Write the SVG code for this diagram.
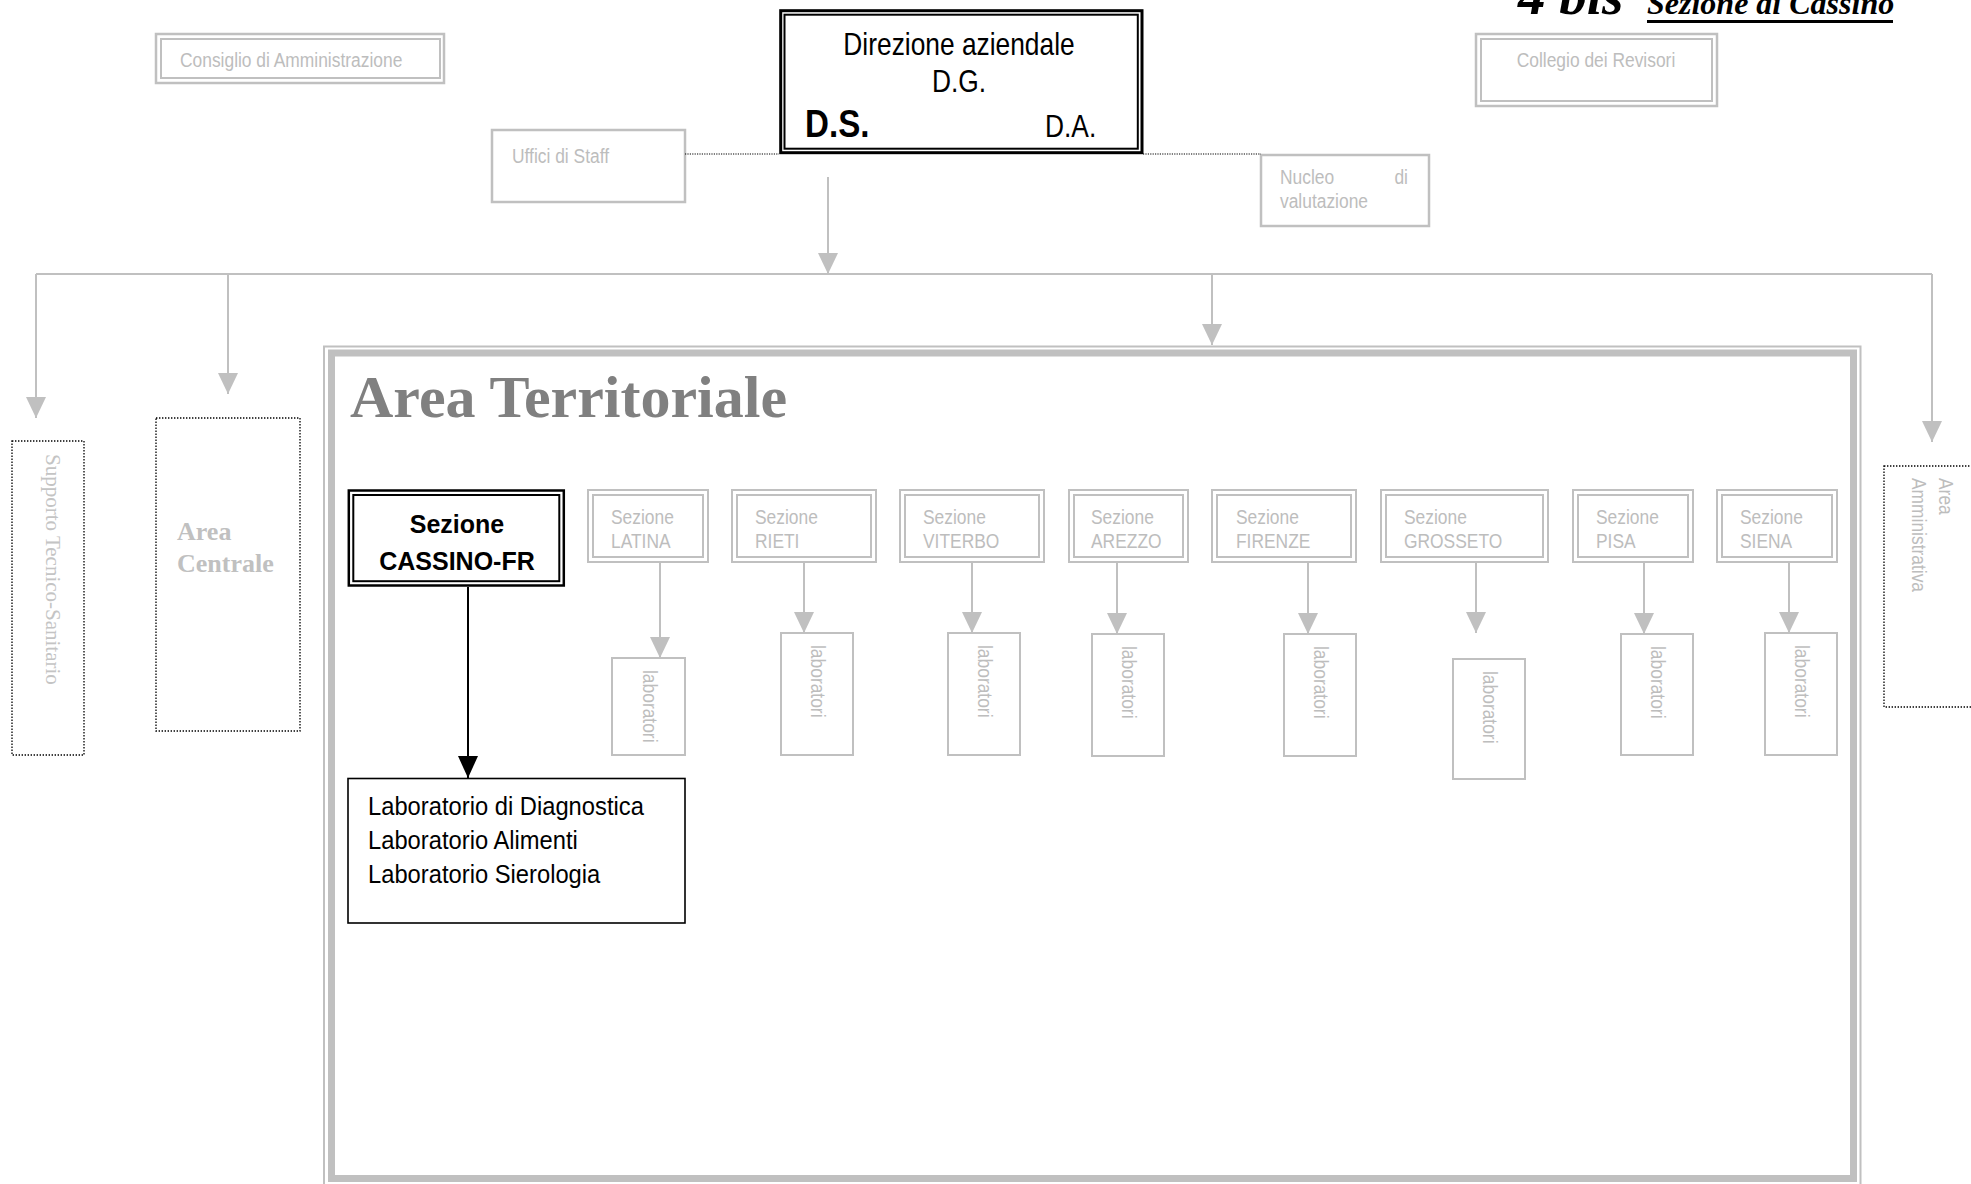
<svg xmlns="http://www.w3.org/2000/svg" width="1971" height="1184" viewBox="0 0 1971 1184">
<style>
.g2{fill:none;stroke:#c0c0c0;stroke-width:2}
.g3{fill:none;stroke:#c0c0c0;stroke-width:2.5}
.dot{fill:none;stroke:#000;stroke-width:1.3;stroke-dasharray:1.4 1.6}
.k{fill:none;stroke:#000}
.gl{fill:none;stroke:#c0c0c0;stroke-width:2}
.gt{font-family:"Liberation Sans",Arial,sans-serif;font-size:20px;fill:#bdbdbd}
.bt{font-family:"Liberation Sans",Arial,sans-serif;fill:#000}
.st{font-family:"Liberation Serif","Times New Roman",serif}
</style>
<defs>
<marker id="ga" viewBox="0 0 21 20" refX="21" refY="10" markerWidth="21" markerHeight="20" markerUnits="userSpaceOnUse" orient="auto"><path d="M0,0 L21,10 L0,20 z" fill="#c0c0c0"/></marker>
<marker id="ka" viewBox="0 0 22 20" refX="22" refY="10" markerWidth="22" markerHeight="20" markerUnits="userSpaceOnUse" orient="auto"><path d="M0,0 L22,10 L0,20 z" fill="#000"/></marker>
</defs>
<rect width="1971" height="1184" fill="#fff"/>

<g id="titolo">
<text class="st" x="1518" y="14" font-size="55" font-weight="bold" font-style="italic" fill="#000">4 bis</text>
<text class="st" x="1647" y="14" font-size="32" font-weight="bold" font-style="italic" fill="#000">Sezione di Cassino</text>
<line x1="1647" y1="21.5" x2="1893" y2="21.5" stroke="#000" stroke-width="3"/>
</g>

<g id="consiglio">
<rect class="g3" x="156" y="34" width="288" height="49"/>
<rect class="g2" x="161" y="39" width="279" height="39"/>
<text class="gt" transform="translate(180,67) scale(.87,1)">Consiglio di Amministrazione</text>
</g>

<g id="direzione">
<rect class="k" x="780.7" y="10.7" width="361.3" height="142" stroke-width="3"/>
<rect class="k" x="784.5" y="14.7" width="353.3" height="134" stroke-width="2"/>
<text class="bt" font-size="31" text-anchor="middle" transform="translate(959,55) scale(.85,1)">Direzione aziendale</text>
<text class="bt" font-size="31" text-anchor="middle" transform="translate(959,92) scale(.85,1)">D.G.</text>
<text class="bt" font-size="39" font-weight="bold" transform="translate(805,137) scale(.85,1)">D.S.</text>
<text class="bt" font-size="31" transform="translate(1045,137) scale(.85,1)">D.A.</text>
</g>

<g id="collegio">
<rect class="g3" x="1476" y="34" width="241" height="72"/>
<rect class="g2" x="1481" y="39" width="231" height="62"/>
<text class="gt" text-anchor="middle" transform="translate(1596,67) scale(.87,1)">Collegio dei Revisori</text>
</g>

<g id="uffici">
<rect class="g3" x="492" y="130" width="193" height="72"/>
<text class="gt" transform="translate(512,163) scale(.87,1)">Uffici di Staff</text>
</g>

<g id="nucleo">
<rect class="g3" x="1261" y="155" width="168" height="71"/>
<text class="gt" transform="translate(1280,184) scale(.87,1)">Nucleo</text>
<text class="gt" text-anchor="end" transform="translate(1408,184) scale(.87,1)">di</text>
<text class="gt" transform="translate(1280,208) scale(.87,1)">valutazione</text>
</g>

<g id="supporto">
<rect class="dot" x="12" y="441" width="72" height="314"/>
<text class="st" font-size="21" fill="#c4c4c4" transform="translate(46,454) rotate(90)">Supporto Tecnico-Sanitario</text>
</g>

<g id="area-centrale">
<rect class="dot" x="156" y="418" width="144" height="313"/>
<text class="st" x="177" y="540" font-size="26" font-weight="bold" fill="#c0c0c0">Area</text>
<text class="st" x="177" y="572" font-size="26" font-weight="bold" fill="#c0c0c0">Centrale</text>
</g>

<g id="area-amministrativa">
<rect class="dot" x="1884" y="466" width="100" height="241"/>
<text class="gt" fill="#a8a8a8" transform="translate(1939,478) rotate(90) scale(.87,1)">Area</text>
<text class="gt" fill="#a8a8a8" transform="translate(1912,478) rotate(90) scale(.87,1)">Amministrativa</text>
</g>

<g id="area-territoriale">
<rect fill="none" stroke="#c0c0c0" stroke-width="2" x="324" y="346.5" width="1536.5" height="850"/>
<rect fill="none" stroke="#c0c0c0" stroke-width="7" x="331.5" y="353" width="1522" height="825.5"/>
<text class="st" x="350" y="417" font-size="60" font-weight="bold" fill="#808080">Area Territoriale</text>
</g>

<g id="sezione-cassino">
<rect class="k" x="348.8" y="490.5" width="215" height="95" stroke-width="2.5"/>
<rect class="k" x="353.3" y="495" width="206" height="86.2" stroke-width="2"/>
<text class="bt" x="457" y="533" font-size="25" font-weight="bold" text-anchor="middle">Sezione</text>
<text class="bt" x="457" y="570" font-size="25" font-weight="bold" text-anchor="middle">CASSINO-FR</text>
</g>

<g id="laboratori-cassino">
<rect class="k" x="348" y="778.5" width="337" height="144.5" stroke-width="1.6"/>
<text class="bt" font-size="25" transform="translate(368,815) scale(.95,1)">Laboratorio di Diagnostica</text>
<text class="bt" font-size="25" transform="translate(368,849) scale(.95,1)">Laboratorio Alimenti</text>
<text class="bt" font-size="25" transform="translate(368,883) scale(.95,1)">Laboratorio Sierologia</text>
</g>

<g id="sezione-latina">
<rect class="g2" x="588" y="490" width="120" height="72"/><rect class="g2" x="593" y="495" width="110" height="62"/>
<text class="gt" transform="translate(611,524) scale(.87,1)">Sezione</text>
<text class="gt" transform="translate(611,548) scale(.87,1)">LATINA</text>
</g>
<g id="sezione-rieti">
<rect class="g2" x="732" y="490" width="144" height="72"/><rect class="g2" x="737" y="495" width="134" height="62"/>
<text class="gt" transform="translate(755,524) scale(.87,1)">Sezione</text>
<text class="gt" transform="translate(755,548) scale(.87,1)">RIETI</text>
</g>
<g id="sezione-viterbo">
<rect class="g2" x="900" y="490" width="144" height="72"/><rect class="g2" x="905" y="495" width="134" height="62"/>
<text class="gt" transform="translate(923,524) scale(.87,1)">Sezione</text>
<text class="gt" transform="translate(923,548) scale(.87,1)">VITERBO</text>
</g>
<g id="sezione-arezzo">
<rect class="g2" x="1069" y="490" width="119" height="72"/><rect class="g2" x="1074" y="495" width="109" height="62"/>
<text class="gt" transform="translate(1091,524) scale(.87,1)">Sezione</text>
<text class="gt" transform="translate(1091,548) scale(.87,1)">AREZZO</text>
</g>
<g id="sezione-firenze">
<rect class="g2" x="1212" y="490" width="144" height="72"/><rect class="g2" x="1217" y="495" width="134" height="62"/>
<text class="gt" transform="translate(1236,524) scale(.87,1)">Sezione</text>
<text class="gt" transform="translate(1236,548) scale(.87,1)">FIRENZE</text>
</g>
<g id="sezione-grosseto">
<rect class="g2" x="1381" y="490" width="167" height="72"/><rect class="g2" x="1386" y="495" width="157" height="62"/>
<text class="gt" transform="translate(1404,524) scale(.87,1)">Sezione</text>
<text class="gt" transform="translate(1404,548) scale(.87,1)">GROSSETO</text>
</g>
<g id="sezione-pisa">
<rect class="g2" x="1573" y="490" width="120" height="72"/><rect class="g2" x="1578" y="495" width="110" height="62"/>
<text class="gt" transform="translate(1596,524) scale(.87,1)">Sezione</text>
<text class="gt" transform="translate(1596,548) scale(.87,1)">PISA</text>
</g>
<g id="sezione-siena">
<rect class="g2" x="1717" y="490" width="120" height="72"/><rect class="g2" x="1722" y="495" width="110" height="62"/>
<text class="gt" transform="translate(1740,524) scale(.87,1)">Sezione</text>
<text class="gt" transform="translate(1740,548) scale(.87,1)">SIENA</text>
</g>

<g id="lab-latina"><rect class="g2" x="612" y="658" width="73" height="97"/><text class="gt" transform="translate(643,670) rotate(90) scale(.87,1)">laboratori</text></g>
<g id="lab-rieti"><rect class="g2" x="781" y="633" width="72" height="122"/><text class="gt" transform="translate(811,645) rotate(90) scale(.87,1)">laboratori</text></g>
<g id="lab-viterbo"><rect class="g2" x="948" y="633" width="72" height="122"/><text class="gt" transform="translate(978,645) rotate(90) scale(.87,1)">laboratori</text></g>
<g id="lab-arezzo"><rect class="g2" x="1092" y="634" width="72" height="122"/><text class="gt" transform="translate(1122,646) rotate(90) scale(.87,1)">laboratori</text></g>
<g id="lab-firenze"><rect class="g2" x="1284" y="634" width="72" height="122"/><text class="gt" transform="translate(1314,646) rotate(90) scale(.87,1)">laboratori</text></g>
<g id="lab-grosseto"><rect class="g2" x="1453" y="659" width="72" height="120"/><text class="gt" transform="translate(1483,671) rotate(90) scale(.87,1)">laboratori</text></g>
<g id="lab-pisa"><rect class="g2" x="1621" y="634" width="72" height="121"/><text class="gt" transform="translate(1651,646) rotate(90) scale(.87,1)">laboratori</text></g>
<g id="lab-siena"><rect class="g2" x="1765" y="633" width="72" height="122"/><text class="gt" transform="translate(1795,645) rotate(90) scale(.87,1)">laboratori</text></g>

<g id="connettori">
<line x1="685" y1="154" x2="779" y2="154" stroke="#000" stroke-width="1.2" stroke-dasharray="1.2 1.2"/>
<line x1="1143" y1="154" x2="1261" y2="154" stroke="#000" stroke-width="1.2" stroke-dasharray="1.2 1.2"/>
<line class="gl" x1="828" y1="177" x2="828" y2="274" marker-end="url(#ga)"/>
<line class="gl" x1="36" y1="274" x2="1932" y2="274"/>
<line class="gl" x1="36" y1="274" x2="36" y2="418" marker-end="url(#ga)"/>
<line class="gl" x1="228" y1="274" x2="228" y2="394" marker-end="url(#ga)"/>
<line class="gl" x1="1212" y1="274" x2="1212" y2="345" marker-end="url(#ga)"/>
<line class="gl" x1="1932" y1="274" x2="1932" y2="442" marker-end="url(#ga)"/>
<line x1="468" y1="587" x2="468" y2="778" stroke="#000" stroke-width="2" marker-end="url(#ka)"/>
<line class="gl" x1="660" y1="563" x2="660" y2="658" marker-end="url(#ga)"/>
<line class="gl" x1="804" y1="563" x2="804" y2="633" marker-end="url(#ga)"/>
<line class="gl" x1="972" y1="563" x2="972" y2="633" marker-end="url(#ga)"/>
<line class="gl" x1="1117" y1="563" x2="1117" y2="634" marker-end="url(#ga)"/>
<line class="gl" x1="1308" y1="563" x2="1308" y2="634" marker-end="url(#ga)"/>
<line class="gl" x1="1476" y1="563" x2="1476" y2="633" marker-end="url(#ga)"/>
<line class="gl" x1="1644" y1="563" x2="1644" y2="634" marker-end="url(#ga)"/>
<line class="gl" x1="1789" y1="563" x2="1789" y2="633" marker-end="url(#ga)"/>
</g>
</svg>
